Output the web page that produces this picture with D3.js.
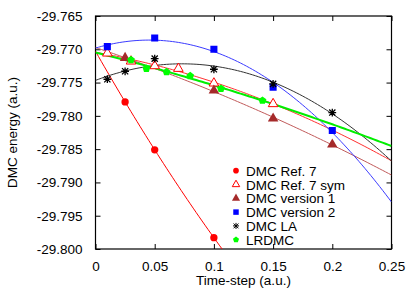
<!DOCTYPE html>
<html>
<head>
<meta charset="utf-8">
<script src="https://cdn.jsdelivr.net/npm/d3@7"></script>
<style>
  body { margin: 0; background: #fff; }
  svg text { font-family: "Liberation Sans", Arial, sans-serif; font-size: 13.5px; fill: #000; }
</style>
</head>
<body>
<div id="chart"></div>
<script>
// ** data **
const ref7X = [0.025, 0.05, 0.1];
const ref7Y = [-29.7779, -29.7851, -29.7983];
const symX = [0.01, 0.03, 0.05, 0.07, 0.1, 0.15];
const symY = [-29.7706, -29.7718, -29.7725, -29.7729, -29.7751, -29.7782];
const v1X = [0.025, 0.1, 0.15, 0.2];
const v1Y = [-29.7713, -29.7762, -29.7804, -29.7843];
const v2X = [0.01, 0.05, 0.1, 0.15, 0.2];
const v2Y = [-29.7696, -29.7683, -29.7700, -29.7757, -29.7822];
const laX = [0.01, 0.025, 0.05, 0.1, 0.15, 0.2];
const laY = [-29.7745, -29.7733, -29.7714, -29.7730, -29.7752, -29.7795];
const lrX = [0.03, 0.043, 0.06, 0.08, 0.106, 0.141];
const lrY = [-29.7716, -29.7729, -29.7734, -29.7740, -29.7759, -29.7777];

const seriesNames = ["DMC Ref. 7", "DMC Ref. 7 sym", "DMC version 1", "DMC version 2", "DMC LA", "LRDMC"];
const xTicks = [0, 0.05, 0.1, 0.15, 0.2, 0.25];
const yTicks = [-29.765, -29.770, -29.775, -29.780, -29.785, -29.790, -29.795, -29.800];

const wid = 415, hei = 291;
// plot box edges
const pLeft = 95.5, pRight = 391.5, pTop = 16, pBottom = 249;

const svg = d3.select("#chart").append("svg")
  .attr("width", wid).attr("height", hei);

const xScale = d3.scaleLinear().domain([0, 0.25]).range([pLeft, pRight]);
const yScale = d3.scaleLinear().domain([-29.800, -29.765]).range([pBottom, pTop]);

// quadratic least squares fit, gives a function
function quadFit(xs, ys) {
  const n = xs.length;
  let s = [0, 0, 0, 0, 0], t = [0, 0, 0];
  for (let i = 0; i < n; i++) {
    const x = xs[i], y = ys[i] + 29.77;
    for (let k = 0; k < 5; k++) s[k] += Math.pow(x, k);
    for (let k = 0; k < 3; k++) t[k] += Math.pow(x, k) * y;
  }
  const A = [[s[0], s[1], s[2], t[0]], [s[1], s[2], s[3], t[1]], [s[2], s[3], s[4], t[2]]];
  for (let c = 0; c < 3; c++) {
    for (let r = c + 1; r < 3; r++) {
      const f = A[r][c] / A[c][c];
      for (let k = c; k < 4; k++) A[r][k] -= f * A[c][k];
    }
  }
  const b = [0, 0, 0];
  for (let r = 2; r >= 0; r--) {
    let v = A[r][3];
    for (let k = r + 1; k < 3; k++) v -= A[r][k] * b[k];
    b[r] = v / A[r][r];
  }
  return x => b[0] + b[1] * x + b[2] * x * x - 29.77;
}

// clip for fit curves and points
svg.append("clipPath").attr("id", "clip")
  .append("rect").attr("x", pLeft).attr("y", pTop).attr("width", pRight - pLeft).attr("height", pBottom - pTop);

// axes, ticks pointing inward on all sides
svg.append("g").attr("transform", `translate(${pLeft},0)`)
  .call(d3.axisLeft(yScale).tickValues(yTicks).tickSizeInner(-5).tickSizeOuter(0).tickPadding(13)
    .tickFormat(d => d.toFixed(3)))
  .call(g => g.select(".domain").remove());
svg.append("g").attr("transform", `translate(${pRight},0)`)
  .call(d3.axisRight(yScale).tickValues(yTicks).tickSizeInner(-5).tickSizeOuter(0).tickFormat(""))
  .call(g => g.select(".domain").remove());
svg.append("g").attr("transform", `translate(0,${pBottom})`)
  .call(d3.axisBottom(xScale).tickValues(xTicks).tickSizeInner(-5).tickSizeOuter(0).tickPadding(12)
    .tickFormat(d => String(+d.toFixed(2))))
  .call(g => g.select(".domain").remove());
svg.append("g").attr("transform", `translate(0,${pTop})`)
  .call(d3.axisTop(xScale).tickValues(xTicks).tickSizeInner(-5).tickSizeOuter(0).tickFormat(""))
  .call(g => g.select(".domain").remove());
svg.selectAll(".tick text").style("font-size", "13.5px").attr("font-family", null);

// frame
svg.append("rect").attr("x", pLeft).attr("y", pTop).attr("width", pRight - pLeft).attr("height", pBottom - pTop)
  .attr("fill", "none").attr("stroke", "#000").attr("stroke-width", 1.2);

// pentagon symbol
const symbolPentagon = {
  draw(ctx, size) {
    const r = Math.sqrt(size / 2.378);
    for (let i = 0; i < 5; i++) {
      const a = -Math.PI / 2 + i * 2 * Math.PI / 5;
      i ? ctx.lineTo(r * Math.cos(a), r * Math.sin(a)) : ctx.moveTo(r * Math.cos(a), r * Math.sin(a));
    }
    ctx.closePath();
  }
};
// gnuplot style star: plus over cross
const symbolStar = {
  draw(ctx, size) {
    const r = Math.sqrt(size) / 2;
    const q = r * 0.8;
    ctx.moveTo(-r, 0); ctx.lineTo(r, 0);
    ctx.moveTo(0, -r); ctx.lineTo(0, r);
    ctx.moveTo(-q, -q); ctx.lineTo(q, q);
    ctx.moveTo(-q, q); ctx.lineTo(q, -q);
  }
};

const series = [
  { name: seriesNames[0], xs: ref7X, ys: ref7Y, line: "#ff0000", lw: 1, sym: d3.symbolCircle, size: 42, fill: "#ff0000", stroke: "none" },
  { name: seriesNames[1], xs: symX, ys: symY, line: "#ff3030", lw: 1, sym: d3.symbolTriangle, size: 40, fill: "#fff", stroke: "#ff0000" },
  { name: seriesNames[2], xs: v1X, ys: v1Y, line: "#c05a5a", lw: 1, sym: d3.symbolTriangle, size: 48, fill: "#a52a2a", stroke: "none" },
  { name: seriesNames[3], xs: v2X, ys: v2Y, line: "#3b3bff", lw: 1, sym: d3.symbolSquare, size: 50, fill: "#0000ff", stroke: "none" },
  { name: seriesNames[4], xs: laX, ys: laY, line: "#333333", lw: 1, sym: symbolStar, size: 60, fill: "none", stroke: "#000" },
  { name: seriesNames[5], xs: lrX, ys: lrY, line: "#00ee00", lw: 2, sym: symbolPentagon, size: 40, fill: "#00ff00", stroke: "none" }
];

const plot = svg.append("g").attr("clip-path", "url(#clip)");
const xsFine = d3.range(0, 0.2501, 0.0025);

series.forEach(s => {
  const f = quadFit(s.xs, s.ys);
  plot.append("path")
    .datum(xsFine)
    .attr("fill", "none")
    .attr("stroke", s.line)
    .attr("stroke-width", s.lw)
    .attr("d", d3.line().x(d => xScale(d)).y(d => yScale(f(d))));
});

series.forEach(s => {
  plot.selectAll(null)
    .data(s.xs.map((x, i) => [x, s.ys[i]]))
    .enter()
    .append("path")
    .attr("transform", d => `translate(${xScale(d[0])},${yScale(d[1])})`)
    .attr("d", d3.symbol(s.sym, s.size))
    .attr("fill", s.fill)
    .attr("stroke", s.stroke)
    .attr("stroke-width", s.sym === symbolStar ? 1.3 : 1);
});

// legend
const legend = svg.append("g").attr("transform", "translate(236,170.7)");
series.forEach((s, i) => {
  const g = legend.append("g").attr("transform", `translate(0,${i * 13.8})`);
  g.append("path")
    .attr("d", d3.symbol(s.sym, s.size * 0.6))
    .attr("fill", s.fill)
    .attr("stroke", s.stroke)
    .attr("stroke-width", 1);
  g.append("text").attr("x", 10).attr("y", 5).text(s.name);
});

// axis titles
svg.append("text")
  .attr("transform", `translate(17,${(pTop + pBottom) / 2}) rotate(-90)`)
  .attr("text-anchor", "middle")
  .text("DMC energy (a.u.)");
svg.append("text")
  .attr("x", (pLeft + pRight) / 2).attr("y", 285)
  .attr("text-anchor", "middle")
  .text("Time-step (a.u.)");
</script>
</body>
</html>
